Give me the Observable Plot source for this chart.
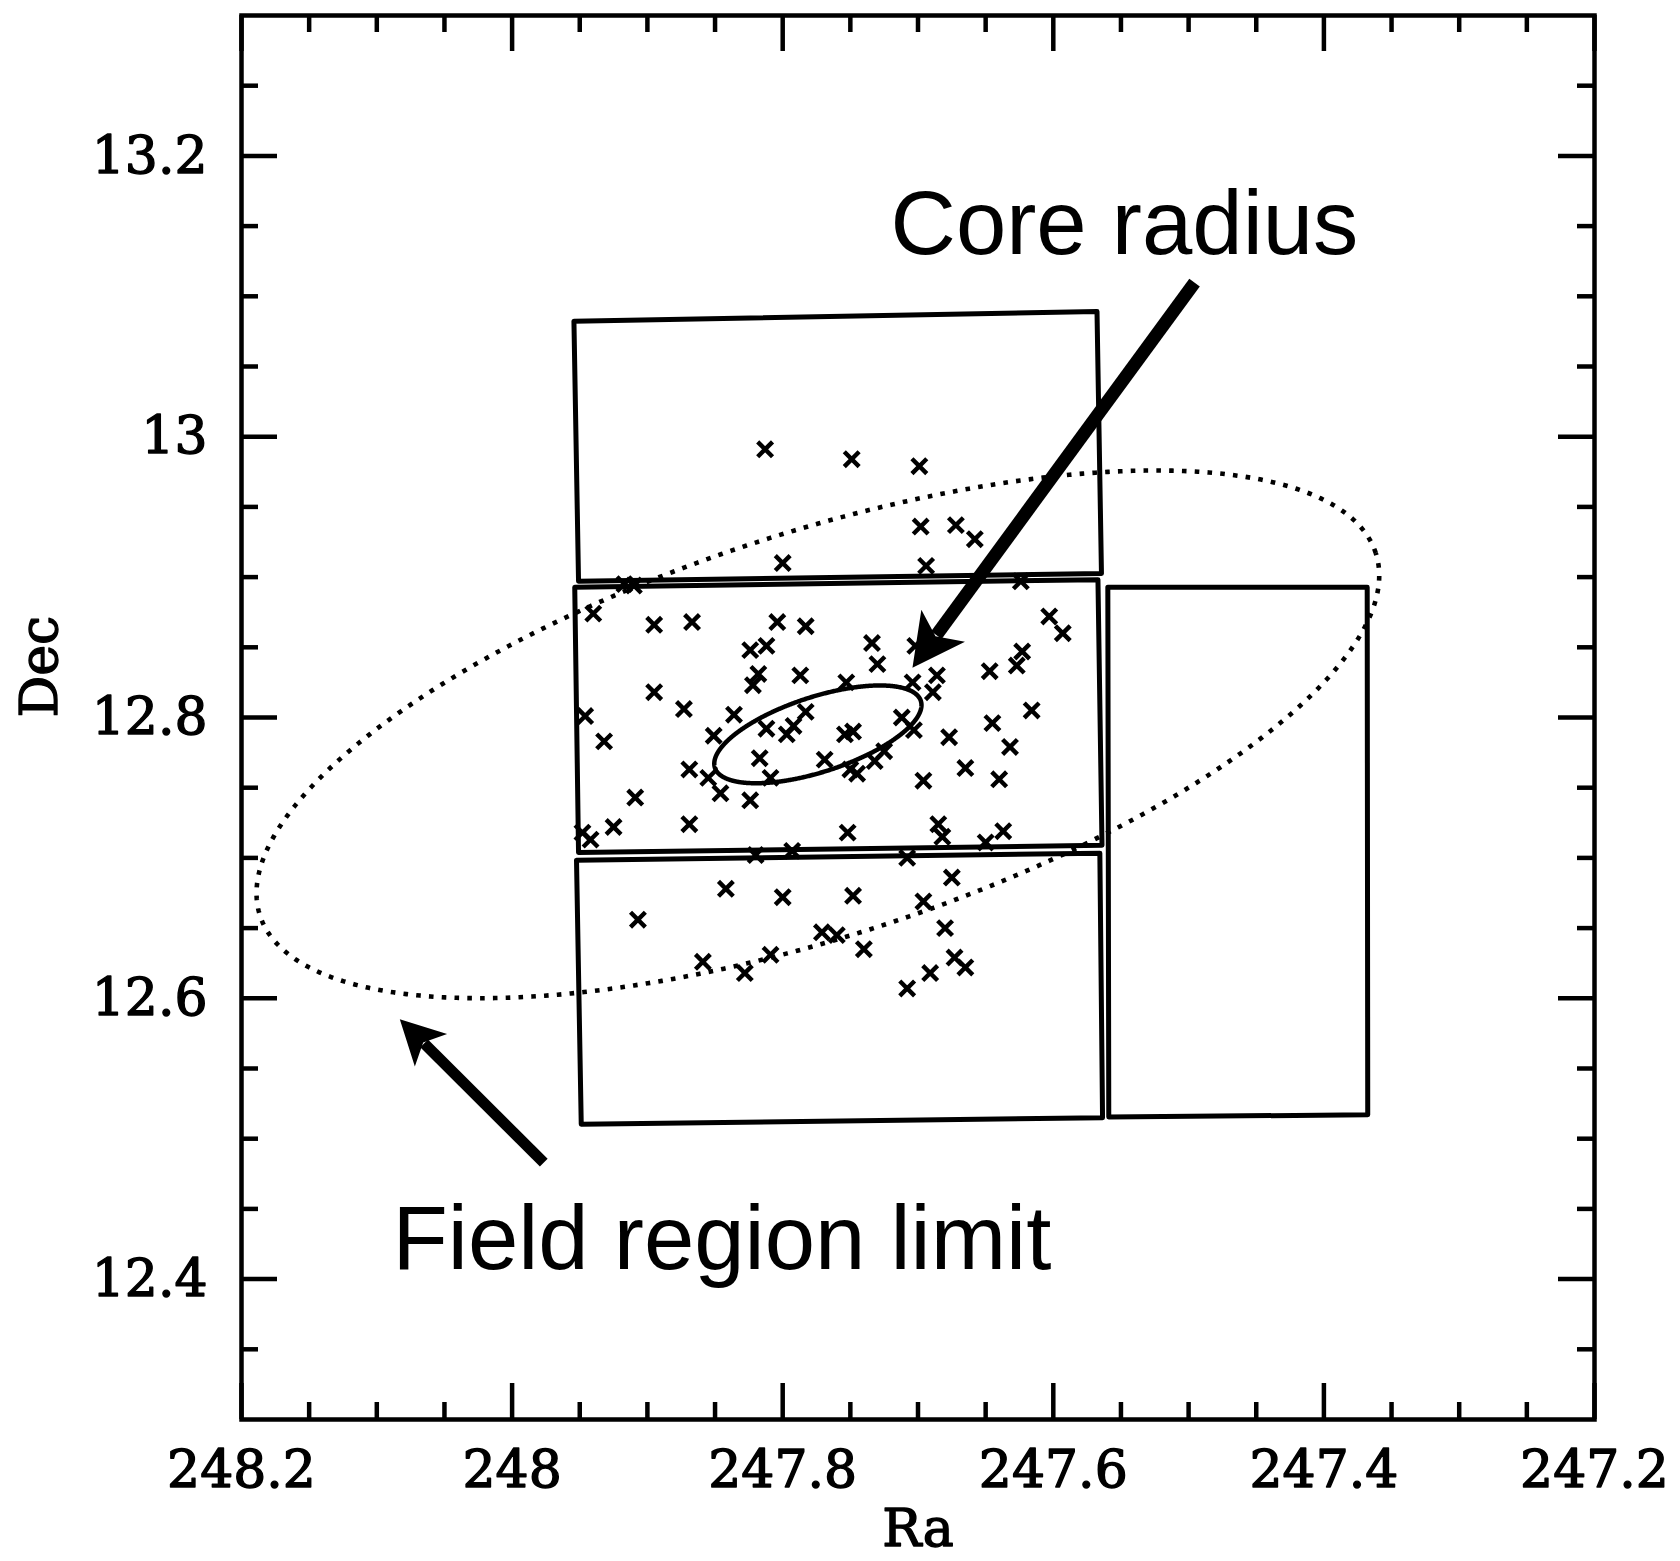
<!DOCTYPE html>
<html><head><meta charset="utf-8">
<script src="https://cdn.jsdelivr.net/npm/d3@7"></script>
<script src="https://cdn.jsdelivr.net/npm/@observablehq/plot@0.6"></script>
<style>html,body{margin:0;padding:0;background:#fff}</style>
</head><body><div id="chart"></div>
<script>
// ---------- data ----------
const pointRa = [247.813,247.749,247.699,247.698,247.672,247.658,247.800,247.694,247.624,247.917,247.910,247.940,247.895,247.867,247.804,247.783,247.603,247.593,247.824,247.812,247.734,247.702,247.623,247.627,247.730,247.818,247.787,247.822,247.753,247.704,247.686,247.689,247.647,247.895,247.616,247.946,247.873,247.836,247.783,247.712,247.645,247.812,247.792,247.797,247.754,247.748,247.703,247.677,247.932,247.851,247.632,247.817,247.769,247.725,247.732,247.665,247.869,247.855,247.809,247.750,247.745,247.696,247.640,247.909,247.846,247.824,247.869,247.925,247.948,247.942,247.752,247.685,247.682,247.637,247.650,247.820,247.793,247.708,247.675,247.842,247.800,247.748,247.696,247.907,247.771,247.760,247.680,247.740,247.859,247.809,247.828,247.673,247.665,247.691,247.708];
const pointDec = [12.991,12.984,12.979,12.936,12.937,12.927,12.910,12.908,12.897,12.895,12.894,12.874,12.866,12.868,12.868,12.865,12.872,12.860,12.848,12.851,12.853,12.851,12.847,12.837,12.838,12.831,12.830,12.823,12.825,12.825,12.830,12.818,12.833,12.818,12.805,12.801,12.806,12.802,12.804,12.800,12.796,12.792,12.794,12.788,12.788,12.790,12.791,12.786,12.783,12.787,12.779,12.771,12.770,12.776,12.769,12.764,12.763,12.757,12.757,12.763,12.760,12.755,12.756,12.743,12.746,12.741,12.724,12.722,12.718,12.713,12.718,12.724,12.715,12.719,12.711,12.702,12.705,12.700,12.686,12.678,12.672,12.673,12.669,12.656,12.647,12.645,12.650,12.635,12.626,12.631,12.618,12.629,12.622,12.618,12.607];

// CCD chip outlines (corners TL, TR, BR, BL)
const boxNames = ["top", "middle", "bottom", "right"];
const boxCornerRa = [
  [247.9543, 247.5677, 247.5644, 247.9509],
  [247.9537, 247.5670, 247.5640, 247.9509],
  [247.9524, 247.5656, 247.5636, 247.9489],
  [247.5597, 247.3680, 247.3676, 247.5590]
];
const boxCornerDec = [
  [13.0823, 13.0891, 12.9026, 12.8971],
  [12.8927, 12.8982, 12.7090, 12.7038],
  [12.6984, 12.7034, 12.5150, 12.5103],
  [12.8927, 12.8927, 12.5170, 12.5155]
];

// ellipses: core radius and field region limit (semi-axes in degrees of Dec)
const ellipseNames = ["core", "field"];
const ellipseCenterRa = [247.774, 247.774];
const ellipseCenterDec = [12.788, 12.788];
const ellipseSemiMajor = [0.0771, 0.4178];
const ellipseSemiMinor = [0.0267, 0.1436];
const ellipseAngleDeg = [18, 18];

// annotation arrows
const arrowNames = ["core", "field"];
const arrowTailRa = [247.4956, 247.9766];
const arrowTailDec = [13.1098, 12.4830];
const arrowTipRa = [247.7041, 248.0830];
const arrowTipDec = [12.8354, 12.5851];

// annotation texts
const labelText = ["Core radius", "Field region limit"];
const labelRa = [247.7203, 248.0884];
const labelDec = [13.1304, 12.4072];

// axis ticks
const xMajor = [248.2, 248.0, 247.8, 247.6, 247.4, 247.2];
const xMinor = [248.15, 248.1, 248.05, 247.95, 247.9, 247.85, 247.75, 247.7, 247.65, 247.55, 247.5, 247.45, 247.35, 247.3, 247.25];
const yMajor = [12.4, 12.6, 12.8, 13.0, 13.2];
const yMinor = [12.35, 12.45, 12.5, 12.55, 12.65, 12.7, 12.75, 12.85, 12.9, 12.95, 13.05, 13.1, 13.15, 13.25];
const xTickLabels = ["248.2", "248", "247.8", "247.6", "247.4", "247.2"];
const yTickLabels = ["12.4", "12.6", "12.8", "13", "13.2"];
const xDomain = [248.2, 247.2];
const yDomain = [12.3, 13.3];

// ---------- layout / style ----------
const W = 1680, H = 1561, mT = 15, mB = 142, mL = 241, mR = 86;
const frameW = W - mL - mR, frameH = H - mT - mB;
const Px = frameW / Math.abs(xDomain[1] - xDomain[0]);
const Py = frameH / Math.abs(yDomain[1] - yDomain[0]);
const arrowStyle = {core: {head: 52, shaft: 13}, field: {head: 44, shaft: 11}};
const ellipseStyle = {core: {strokeWidth: 4.5}, field: {strokeWidth: 4.6, strokeDasharray: "4.6,8.2"}};
const serif = "DejaVu Serif, Liberation Serif, serif";
const sans = "Liberation Sans, Arial, Helvetica, sans-serif";
const axisText = {fontSize: 52, fontFamily: serif, fill: "black", stroke: "black", strokeWidth: 1.4};

// ---------- derived tables ----------
const points = pointRa.map((ra, i) => ({ra, dec: pointDec[i]}));
const boxes = boxNames.flatMap((name, i) =>
  [0, 1, 2, 3, 0].map(k => ({name, ra: boxCornerRa[i][k], dec: boxCornerDec[i][k]})));

function ellipseOutline(i) {
  const th = ellipseAngleDeg[i] * Math.PI / 180, a = ellipseSemiMajor[i], b = ellipseSemiMinor[i];
  const out = [];
  for (let k = 0; k <= 720; k++) {
    const t = k * Math.PI / 360;
    const u = a * Math.cos(t) * Math.cos(th) - b * Math.sin(t) * Math.sin(th);
    const v = a * Math.cos(t) * Math.sin(th) + b * Math.sin(t) * Math.cos(th);
    out.push({ra: ellipseCenterRa[i] - u * Py / Px, dec: ellipseCenterDec[i] + v});
  }
  return out;
}

const arrowHead = {
  draw(ctx, size) {
    const r = Math.sqrt(size / Math.PI);
    ctx.moveTo(0, 0);
    ctx.lineTo(0.52 * r, r);
    ctx.lineTo(0, 0.75 * r);
    ctx.lineTo(-0.52 * r, r);
    ctx.closePath();
  }
};

const arrowMarks = arrowNames.flatMap((name, i) => {
  const st = arrowStyle[name];
  const dxPx = -(arrowTipRa[i] - arrowTailRa[i]) * Px;
  const dyPx = -(arrowTipDec[i] - arrowTailDec[i]) * Py;
  const len = Math.hypot(dxPx, dyPx), ux = dxPx / len, uy = dyPx / len;
  const rot = Math.atan2(dxPx, -dyPx) * 180 / Math.PI;
  const back = 0.78 * st.head;
  const shaft = [{x1: arrowTailRa[i], y1: arrowTailDec[i],
                  x2: arrowTipRa[i] + back * ux / Px, y2: arrowTipDec[i] + back * uy / Py}];
  return [
    Plot.link(shaft, {x1: "x1", y1: "y1", x2: "x2", y2: "y2", stroke: "black", strokeWidth: st.shaft, strokeLinecap: "butt"}),
    Plot.dot([{ra: arrowTipRa[i], dec: arrowTipDec[i]}], {x: "ra", y: "dec", r: st.head, symbol: arrowHead, rotate: rot, fill: "black", stroke: "none"})
  ];
});

const majorLen = 36, minorLen = 17, tickW = 4.5;

const chart = Plot.plot({
  width: W, height: H,
  marginTop: mT, marginBottom: mB, marginLeft: mL, marginRight: mR,
  style: {background: "white", color: "black", fontFamily: serif, overflow: "visible"},
  x: {domain: xDomain, axis: null},
  y: {domain: yDomain, axis: null},
  marks: [
    // ticks pointing inward on all four sides
    Plot.tickX(xMajor, {x: d => d, insetTop: frameH - majorLen, strokeWidth: tickW}),
    Plot.tickX(xMajor, {x: d => d, insetBottom: frameH - majorLen, strokeWidth: tickW}),
    Plot.tickX(xMinor, {x: d => d, insetTop: frameH - minorLen, strokeWidth: tickW}),
    Plot.tickX(xMinor, {x: d => d, insetBottom: frameH - minorLen, strokeWidth: tickW}),
    Plot.tickY(yMajor, {y: d => d, insetRight: frameW - majorLen, strokeWidth: tickW}),
    Plot.tickY(yMajor, {y: d => d, insetLeft: frameW - majorLen, strokeWidth: tickW}),
    Plot.tickY(yMinor, {y: d => d, insetRight: frameW - minorLen, strokeWidth: tickW}),
    Plot.tickY(yMinor, {y: d => d, insetLeft: frameW - minorLen, strokeWidth: tickW}),
    // tick labels
    Plot.text(xMajor, {x: d => d, text: (d, i) => xTickLabels[i], frameAnchor: "bottom", dy: 31, lineAnchor: "top", ...axisText}),
    Plot.text(yMajor, {y: d => d, text: (d, i) => yTickLabels[i], frameAnchor: "left", dx: -34, textAnchor: "end", lineAnchor: "middle", ...axisText}),
    // axis titles
    Plot.text(["Ra"], {frameAnchor: "bottom", dy: 110, text: d => d, lineAnchor: "middle", ...axisText}),
    Plot.text(["Dec"], {frameAnchor: "left", dx: -201, rotate: -90, text: d => d, lineAnchor: "middle", ...axisText}),
    // chips
    Plot.line(boxes, {x: "ra", y: "dec", z: "name", stroke: "black", strokeWidth: 5, strokeLinejoin: "round"}),
    // ellipses
    ...ellipseNames.map((name, i) => Plot.line(ellipseOutline(i), {x: "ra", y: "dec", stroke: "black", strokeLinecap: "butt", ...ellipseStyle[name]})),
    // stars
    Plot.dot(points, {x: "ra", y: "dec", symbol: "times", r: 6.8, stroke: "black", strokeWidth: 4.4}),
    // annotations
    ...arrowMarks,
    Plot.text(labelText.map((t, i) => ({t, ra: labelRa[i], dec: labelDec[i]})), {x: "ra", y: "dec", text: "t", textAnchor: "start", lineAnchor: "bottom", fontSize: 90.5, fontFamily: sans, fill: "black"}),
    Plot.frame({stroke: "black", strokeWidth: 4.5})
  ]
});
document.getElementById("chart").append(chart);
</script></body></html>
